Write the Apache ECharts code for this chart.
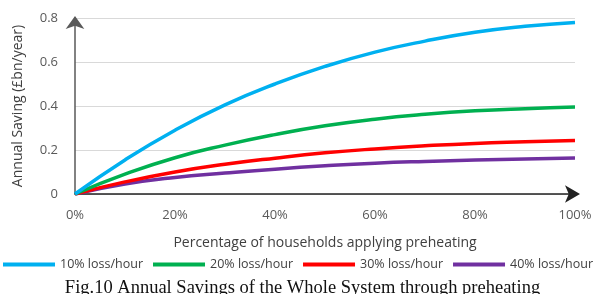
<!DOCTYPE html>
<html>
<head>
<meta charset="utf-8">
<script src="https://cdn.jsdelivr.net/npm/echarts@6/dist/echarts.min.js"></script>
<style>
    html, body { margin: 0; padding: 0; background: #fff; }
    #main { width: 605px; height: 294px; }
</style>
</head>
<body>
<div id="main"></div>
<script>
// 住户比例 (%)
var shares = [0, 10, 20, 30, 40, 50, 60, 70, 80, 90, 100];
var seriesNames = ['10% loss/hour', '20% loss/hour', '30% loss/hour', '40% loss/hour'];
var loss10 = [0, 0.155, 0.29, 0.405, 0.50, 0.58, 0.645, 0.695, 0.735, 0.762, 0.78];
var loss20 = [0, 0.09, 0.165, 0.222, 0.27, 0.31, 0.34, 0.362, 0.378, 0.388, 0.395];
var loss30 = [0, 0.055, 0.10, 0.135, 0.163, 0.187, 0.205, 0.219, 0.23, 0.237, 0.243];
var loss40 = [0, 0.045, 0.075, 0.095, 0.113, 0.128, 0.14, 0.148, 0.154, 0.159, 0.164];
var colors = ['#00b0f0', '#00b050', '#ff0000', '#7030a0'];

function pairs(vals) {
    return shares.map(function (s, i) { return [s, vals[i]]; });
}

var chart = echarts.init(document.getElementById('main'));
var font = '"Open Sans", "DejaVu Sans", sans-serif';

var option = {
    animation: false,
    color: colors,
    title: {
        text: 'Fig.10 Annual Savings of the Whole System through preheating',
        left: 'center',
        top: 274,
        textStyle: {
            fontFamily: '"Liberation Serif", serif',
            fontWeight: 'normal',
            fontSize: 18.5,
            color: '#111'
        }
    },
    legend: {
        left: 3,
        top: 258,
        width: 605,
        padding: 0,
        icon: 'rect',
        itemWidth: 52,
        itemHeight: 4,
        itemGap: 10,
        textStyle: { fontFamily: font, fontSize: 12.5, color: '#404040' },
        data: seriesNames
    },
    grid: { left: 75, right: 30, top: 18, bottom: 100 },
    xAxis: {
        type: 'value',
        min: 0,
        max: 100,
        interval: 20,
        name: 'Percentage of households applying preheating',
        nameLocation: 'middle',
        nameGap: 42,
        nameTextStyle: { fontFamily: font, fontSize: 14, color: '#404040' },
        axisLine: {
            lineStyle: { color: '#222', width: 1.5 },
            symbol: ['none', 'arrow'],
            symbolSize: [13, 15],
            symbolOffset: [0, 5]
        },
        axisTick: { show: false },
        splitLine: { show: false },
        axisLabel: {
            formatter: '{value}%',
            margin: 15,
            fontFamily: font,
            fontSize: 13,
            color: '#595959'
        }
    },
    yAxis: {
        type: 'value',
        min: 0,
        max: 0.8,
        interval: 0.2,
        name: 'Annual Saving (£bn/year)',
        nameLocation: 'middle',
        nameGap: 50,
        nameTextStyle: { fontFamily: font, fontSize: 14, color: '#404040' },
        axisLine: {
            show: true,
            lineStyle: { color: '#595959', width: 1.5 },
            symbol: ['none', 'arrow'],
            symbolSize: [14, 13],
            symbolOffset: [0, 2]
        },
        axisTick: { show: false },
        splitLine: { lineStyle: { color: '#d9d9d9', width: 1 } },
        axisLabel: {
            margin: 17,
            fontFamily: font,
            fontSize: 13,
            color: '#595959'
        }
    },
    series: [loss10, loss20, loss30, loss40].map(function (vals, i) {
        return {
            name: seriesNames[i],
            type: 'line',
            smooth: true,
            showSymbol: false,
            lineStyle: { width: 3.5, color: colors[i] },
            data: pairs(vals),
            z: 10 - i
        };
    })
};

option && chart.setOption(option);
</script>
</body>
</html>
